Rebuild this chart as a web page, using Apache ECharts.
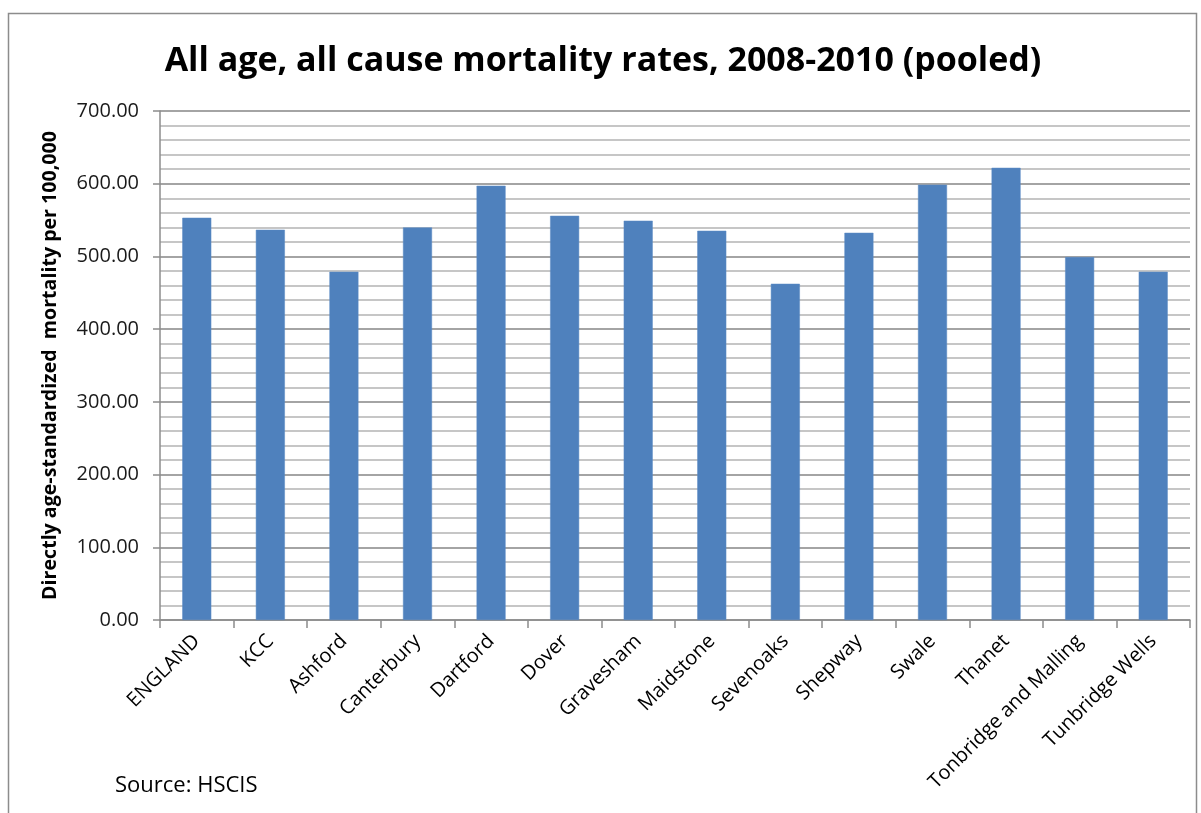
<!DOCTYPE html>
<html>
<head>
<meta charset="utf-8">
<script src="https://cdn.jsdelivr.net/npm/echarts@6/dist/echarts.min.js"></script>
<style>
html,body{margin:0;padding:0;background:#fff;}
#c{width:1201px;height:813px;}
</style>
</head>
<body>
<div id="c"></div>
<script>
const categories = ["ENGLAND","KCC","Ashford","Canterbury","Dartford","Dover","Gravesham","Maidstone","Sevenoaks","Shepway","Swale","Thanet","Tonbridge and Malling","Tunbridge Wells"];
const mortality = [553.2, 536.7, 478.9, 539.9, 597.2, 555.9, 549.1, 535.3, 462.4, 532.5, 598.6, 621.9, 499.1, 478.9];
const yTicks = {min: 0, max: 700, interval: 100};

const FONT = '"Open Sans", sans-serif';
const chart = echarts.init(document.getElementById('c'), null, {renderer: 'canvas'});
chart.setOption({
  animation: false,
  backgroundColor: '#ffffff',
  title: {
    text: 'All age, all cause mortality rates, 2008-2010 (pooled)',
    left: 598, top: 39, textAlign: 'center',
    textStyle: {fontFamily: FONT, fontWeight: 'bold', fontSize: 34, color: '#000'}
  },
  graphic: [
    {type: 'polyline', shape: {points: [[8.5, 813], [8.5, 13.5], [1196.5, 13.5], [1196.5, 813]]},
     style: {stroke: '#8c8c8c', lineWidth: 1.5, fill: null}},
    {type: 'text', left: 115, top: 775,
     style: {text: 'Source: HSCIS', fontFamily: FONT, fontSize: 22, fill: '#000'}}
  ],
  grid: {left: 160, right: 11, top: 111, bottom: 193, containLabel: false},
  xAxis: {
    type: 'category',
    data: categories,
    boundaryGap: true,
    axisLine: {show: true, lineStyle: {color: '#8c8c8c', width: 1.5}},
    axisTick: {show: true, length: 8, lineStyle: {color: '#8c8c8c', width: 1.5}},
    axisLabel: {interval: 0, rotate: 45, fontFamily: FONT, fontSize: 20, color: '#000', margin: 18}
  },
  yAxis: {
    type: 'value',
    min: yTicks.min, max: yTicks.max, interval: yTicks.interval,
    name: 'Directly age-standardized  mortality per 100,000',
    nameLocation: 'middle', nameGap: 100, nameRotate: 90,
    nameTextStyle: {fontFamily: FONT, fontWeight: 'bold', fontSize: 19.6, color: '#000'},
    axisLine: {show: true, lineStyle: {color: '#8c8c8c', width: 1.5}},
    axisTick: {show: true, length: 7, lineStyle: {color: '#8c8c8c', width: 1.5}},
    axisLabel: {fontFamily: FONT, fontSize: 20, color: '#1a1a1a', margin: 21,
      formatter: v => v.toFixed(2)},
    splitLine: {show: true, lineStyle: {color: '#868686', width: 1.5}},
    minorTick: {show: false, splitNumber: 5},
    minorSplitLine: {show: true, lineStyle: {color: '#b4b4b4', width: 1.5}}
  },
  series: [{
    type: 'bar',
    data: mortality,
    barWidth: 29,
    itemStyle: {color: '#4f81bd', borderColor: '#5b8bc4', borderWidth: 0.5}
  }]
});
</script>
</body>
</html>
